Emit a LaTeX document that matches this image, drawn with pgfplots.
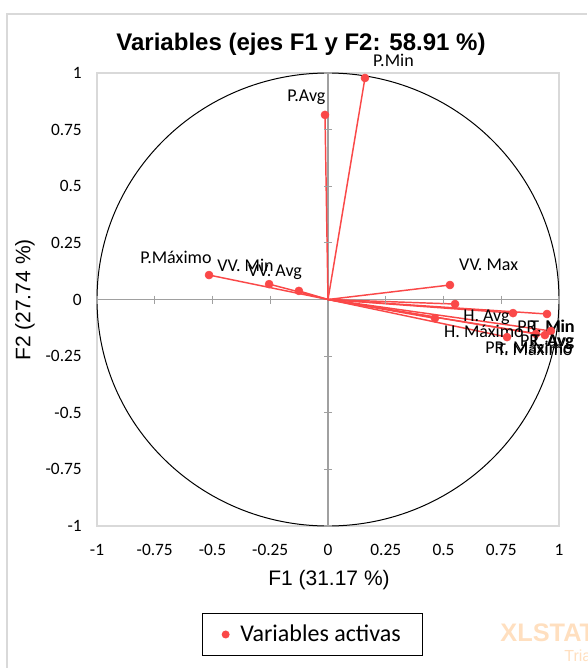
\documentclass[border=0pt]{standalone}
\usepackage{fontspec}
\setmainfont{Carlito}
\newfontfamily\arial{Liberation Sans}
\usepackage{pgfplots}
\usepackage{pgfplotstable}
\pgfplotsset{compat=1.18}

\definecolor{vred}{RGB}{250,72,72}
\definecolor{framegray}{RGB}{217,217,217}
\definecolor{axgray}{RGB}{160,160,160}

% loadings on F1 / F2, label offsets in px (label left edge, label centre)
\pgfplotstableread[col sep=comma]{
x,y,dx,dy,name
0.160,0.978,8,18,P.Min
-0.013,0.815,-38,18,P.Avg
-0.515,0.108,-69,18,P.Máximo
-0.255,0.068,-52,19,VV. Min
-0.126,0.038,-51,19,VV. Avg
0.528,0.064,9,20,VV. Max
0.550,-0.020,8,-13,H. Avg
0.463,-0.083,9,-13,H. Máximo
0.801,-0.060,4,-13,PR. Min
0.948,-0.064,-17,-12,T. Min
0.900,-0.152,-16,-8,PR. Avg
0.965,-0.139,-20,-11,T. Avg
0.775,-0.166,-22,-10,PR. Máximo
0.939,-0.157,-48,-14,T. Máximo
}\loadings

\pgfplotstableread{
x y
-1 0
-0.75 0
-0.5 0
-0.25 0
0.25 0
0.5 0
0.75 0
1 0
}\xticksmid
\pgfplotstableread{
x y
0 -1
0 -0.75
0 -0.5
0 -0.25
0 0.25
0 0.5
0 0.75
0 1
}\yticksmid

\begin{document}
\begin{tikzpicture}
\begin{axis}[
  at={(0,0)}, anchor=south west,
  scale only axis, width=346.5pt, height=339.75pt,
  xmin=-1, xmax=1, ymin=-1, ymax=1,
  clip=false,
  axis line style={draw=framegray, line width=1.1pt},
  major tick length=0pt,
  xtick={-1,-0.75,-0.5,-0.25,0,0.25,0.5,0.75,1},
  ytick={-1,-0.75,-0.5,-0.25,0,0.25,0.5,0.75,1},
  xticklabels={-1,-0.75,-0.5,-0.25,0,0.25,0.5,0.75,1},
  yticklabels={-1,-0.75,-0.5,-0.25,0,0.25,0.5,0.75,1},
  tick label style={font=\fontsize{13}{15}\selectfont, text=black},
  xticklabel style={anchor=center, inner sep=0pt, yshift=-18pt},
  yticklabel style={anchor=east, inner sep=0pt, xshift=-11.25pt},
  legend style={at={(0.4665,-0.2395)}, anchor=center, draw=black,
    line width=0.75pt, font=\fontsize{18}{20}\selectfont,
    inner xsep=14pt, inner ysep=7pt},
  legend image code/.code={\fill[vred,draw=none] (0pt,0pt) circle (3pt);
    \path[draw=none,fill=none] (-3pt,0pt) rectangle (9pt,0.1pt);},
]
% unit circle
\draw[black, line width=0.75pt] (axis cs:0,0) ellipse [x radius=1, y radius=1];
% centre axes
\addplot[axgray, line width=0.8pt, forget plot] coordinates {(-1,0) (1,0)};
\addplot[axgray, line width=0.8pt, forget plot] coordinates {(0,-1) (0,1)};
\addplot[only marks, mark=|, mark size=3pt, mark options={axgray, line width=0.8pt}, forget plot] table {\xticksmid};
\addplot[only marks, mark=-, mark size=3pt, mark options={axgray, line width=0.8pt}, forget plot] table {\yticksmid};
% vectors
\addplot[vred, line width=1.1pt, forget plot,
  quiver={u=\thisrow{x}, v=\thisrow{y}}]
  table[x expr=0, y expr=0] {\loadings};
% points and labels
\addplot[only marks, mark=*, mark size=3pt, mark options={vred, fill=vred},
  point meta=explicit symbolic,
  visualization depends on={\thisrow{dx} \as \ldx},
  visualization depends on={\thisrow{dy} \as \ldy},
  nodes near coords,
  nodes near coords style={anchor=west, inner sep=0pt, text=black,
    font=\fontsize{13.5}{15}\selectfont,
    xshift=\ldx*0.75pt, yshift=\ldy*0.75pt}]
  table[x=x, y=y, meta=name] {\loadings};
\addlegendentry{Variables activas}
\end{axis}
% titles
\node[font=\arial\bfseries\fontsize{18}{20}\selectfont] at (153pt,361.5pt)
  {Variables (ejes F1 y F2: 58.91 \%)};
\node[font=\arial\fontsize{15.75}{18}\selectfont] at (174pt,-40.5pt) {F1 (31.17 \%)};
\node[font=\arial\fontsize{15.75}{18}\selectfont, rotate=90] at (-54pt,169.5pt) {F2 (27.74 \%)};
% watermark
\node[anchor=west, text=orange!25, font=\arial\bfseries\fontsize{19}{20}\selectfont] at (299pt,-80pt) {XLSTAT};
\node[anchor=west, text=orange!25, font=\arial\fontsize{12}{14}\selectfont] at (347pt,-97pt) {Trial};
% chart border
\draw[framegray, line width=1.1pt] (-67.5pt,-106.5pt) -- (-67.5pt,384pt) -- (367.5pt,384pt);
\pgfresetboundingbox
\path (-72.75pt,-106.5pt) rectangle (367.5pt,394.5pt);
\end{tikzpicture}
\end{document}
